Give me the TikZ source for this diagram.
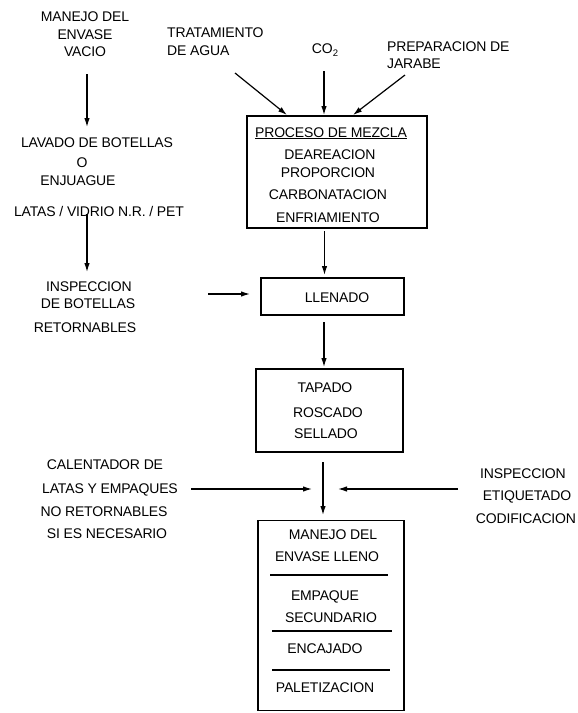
\documentclass[tikz,border=0pt]{standalone}
\usepackage{fontspec}
\setmainfont[LetterSpace=-1.2]{Liberation Sans}
\usetikzlibrary{arrows.meta,calc}
\begin{document}
\begin{tikzpicture}[x=1pt,y=-1pt,
 txt/.style={inner sep=0pt, text height=10pt, text depth=0pt, font=\fontsize{14}{16}\selectfont},
 ltxt/.style={txt, anchor=west},
 box/.style={draw, line width=1.8pt, inner sep=0pt},
 arr/.style={line width=1.2pt, -{Latex[length=9pt,width=5.5pt]}},
 sepline/.style={line width=1.3pt}]
\useasboundingbox (0,0) rectangle (578,713);

% top-left column
\node[txt] (v1) at (85,16) {MANEJO DEL};
\node[txt] (v2) at (85,34) {ENVASE};
\node[txt] (v3) at (85,51) {VACIO};
\coordinate (a1s) at (87,74);
\coordinate (a1e) at (87,127);
\draw[arr] (a1s) -- (a1e);

\node[txt] (l1) at (97,142) {LAVADO DE BOTELLAS};
\node[txt] (l2) at (82,162) {O};
\node[txt] (l3) at (78,180) {ENJUAGUE};
\node[txt] (l4) at (99,211) {LATAS / VIDRIO N.R. / PET};
\coordinate (a2s) at (87,214);
\coordinate (a2e) at (87,272);
\draw[arr] (a2s) -- (a2e);

\node[txt] (i1) at (89,286) {INSPECCION};
\node[txt] (i2) at (88,303) {DE BOTELLAS};
\node[txt] (i3) at (85,327) {RETORNABLES};

% top inputs
\node[ltxt] (t1) at (167,32) {TRATAMIENTO};
\node[ltxt] (t2) at (167,50) {DE AGUA};
\node[txt] (co2) at (325,48) {CO\raisebox{-3.5pt}{\fontsize{9.5}{9.5}\selectfont 2}};
\node[ltxt] (p1) at (387,46) {PREPARACION DE};
\node[ltxt] (p2) at (387,63) {JARABE};

% mixing box
\node[box, minimum width=180pt, minimum height=112pt] (proc) at (337,172) {};
\node[txt] (m0) at (331,132) {\underline{PROCESO DE MEZCLA}};
\node[txt] (m1) at (330,154) {DEAREACION};
\node[txt] (m2) at (328,172) {PROPORCION};
\node[txt] (m3) at (328,194) {CARBONATACION};
\node[txt] (m4) at (328,217) {ENFRIAMIENTO};

\coordinate (b1s) at (235,73);
\coordinate (b1e) at (287,115);
\coordinate (b2s) at (324,71);
\coordinate (b2e) at (324,115);
\coordinate (b3s) at (405,75);
\coordinate (b3e) at (353,115);
\draw[arr] (b1s) -- (b1e);
\draw[arr] (b2s) -- (b2e);
\draw[arr] (b3s) -- (b3e);

% filling
\node[box, minimum width=143pt, minimum height=37pt] (llen) at (332.5,296.5) {};
\node[txt] (lt) at (337,297) {LLENADO};
\coordinate (c1s) at (324.5,231);
\coordinate (c1e) at (324.5,275);
\draw[arr] (c1s) -- (c1e);
\coordinate (c2s) at (208,294);
\coordinate (c2e) at (250,294);
\draw[arr] (c2s) -- (c2e);

% capping
\node[box, minimum width=147pt, minimum height=83pt] (tap) at (329.5,410.5) {};
\node[txt] (tp1) at (325,387) {TAPADO};
\node[txt] (tp2) at (328,412) {ROSCADO};
\node[txt] (tp3) at (326,433) {SELLADO};
\coordinate (c3s) at (324,322);
\coordinate (c3e) at (324,367);
\draw[arr] (c3s) -- (c3e);

% merge
\coordinate (d1s) at (323,462);
\coordinate (d1e) at (323,515);
\draw[arr] (d1s) -- (d1e);
\coordinate (d2s) at (191,489);
\coordinate (d2e) at (312,489);
\draw[arr] (d2s) -- (d2e);
\coordinate (d3s) at (458,489);
\coordinate (d3e) at (338,489);
\draw[arr] (d3s) -- (d3e);

\node[txt] (k1) at (105,464) {CALENTADOR DE};
\node[txt] (k2) at (110,488) {LATAS Y EMPAQUES};
\node[txt] (k3) at (104,511) {NO RETORNABLES};
\node[txt] (k4) at (107,533) {SI ES NECESARIO};

\node[txt] (r1) at (523,473) {INSPECCION};
\node[txt] (r2) at (527,495) {ETIQUETADO};
\node[txt] (r3) at (526,518) {CODIFICACION};

% final box
\node[box, minimum width=146pt, minimum height=190pt] (fin) at (331,615.5) {};
\node[txt] (f1) at (333,534) {MANEJO DEL};
\node[txt] (f2) at (327,556) {ENVASE LLENO};
\draw[sepline] (270,575) -- (388,575);
\node[txt] (f3) at (325,595) {EMPAQUE};
\node[txt] (f4) at (331,617) {SECUNDARIO};
\draw[sepline] (272,631) -- (392,631);
\node[txt] (f5) at (325,648) {ENCAJADO};
\draw[sepline] (272,670) -- (390,670);
\node[txt] (f6) at (325,687) {PALETIZACION};
\end{tikzpicture}
\end{document}
